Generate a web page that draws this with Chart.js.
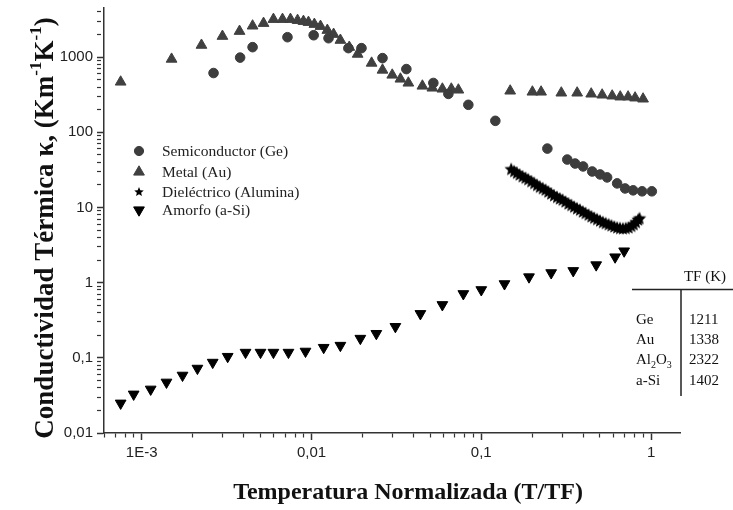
<!DOCTYPE html>
<html>
<head>
<meta charset="utf-8">
<script src="https://cdn.jsdelivr.net/npm/chart.js@4/dist/chart.umd.min.js"></script>
<style>
  body { margin: 0; background: #fff; }
  #wrap { width: 733px; height: 510px; }
</style>
</head>
<body>
<div id="wrap"><canvas id="kappa" width="733" height="510"></canvas></div>
<script>
const seriesNames = ['Semiconductor (Ge)', 'Metal (Au)', 'Dieléctrico (Alumina)', 'Amorfo (a-Si)'];

// Ge (circulos)
const geX = [0.00265, 0.0038, 0.0045, 0.00722, 0.0103, 0.0126, 0.0165, 0.0197, 0.0262, 0.0362,
  0.0522, 0.064, 0.0839, 0.121, 0.245, 0.321, 0.357, 0.398, 0.45, 0.501,
  0.551, 0.631, 0.703, 0.784, 0.885, 1.01];
const geY = [614, 985, 1356, 1840, 1954, 1783, 1316, 1316, 970, 693,
  453, 324, 232, 142, 60.7, 43.4, 38.4, 35.1, 30.1, 27.5,
  25.1, 20.9, 17.9, 16.9, 16.4, 16.4];

// Au (triangulos)
const auX = [0.000752, 0.0015, 0.00225, 0.00299, 0.00377, 0.0045, 0.00522, 0.00597, 0.00675, 0.00752,
  0.00828, 0.00897, 0.0096, 0.0104, 0.0113, 0.0124, 0.0135, 0.0148, 0.0167, 0.0187,
  0.0226, 0.0262, 0.0299, 0.0334, 0.0372, 0.045, 0.0515, 0.059, 0.0666, 0.0733,
  0.148, 0.2, 0.225, 0.296, 0.367, 0.444, 0.515, 0.59, 0.658, 0.732, 0.805, 0.897];
const auY = [467, 941, 1442, 1896, 2208, 2600, 2818, 3183, 3183, 3183,
  3085, 2993, 2904, 2734, 2571, 2276, 2014, 1679, 1356, 1096,
  833, 673, 578, 512, 453, 413, 389, 377, 377, 366,
  355, 344, 344, 334, 334, 324, 314, 305, 296, 296, 287, 278];

// Alumina (estrellas)
const alX = [0.150, 0.156, 0.162, 0.168, 0.175, 0.182, 0.189, 0.197, 0.205, 0.213,
  0.221, 0.230, 0.239, 0.248, 0.258, 0.268, 0.279, 0.290, 0.301, 0.313,
  0.326, 0.339, 0.352, 0.366, 0.381, 0.396, 0.411, 0.428, 0.445, 0.462,
  0.481, 0.500, 0.520, 0.540, 0.562, 0.584, 0.607, 0.631, 0.656, 0.682,
  0.709, 0.737, 0.766, 0.790, 0.815, 0.840, 0.855];
const alY = [32, 30, 28.5, 27, 25.6, 24.5, 23.4, 22, 20.8, 19.6,
  18.6, 17.8, 17.0, 16.0, 15.1, 14.3, 13.6, 13.0, 12.5, 11.8,
  11.1, 10.6, 10.1, 9.6, 9.2, 8.7, 8.3, 7.9, 7.5, 7.2,
  6.9, 6.6, 6.3, 6.1, 5.9, 5.7, 5.5, 5.35, 5.25, 5.2,
  5.25, 5.35, 5.6, 5.9, 6.3, 6.8, 7.1];

// a-Si (triangulos invertidos)
const siX = [0.000752, 0.000897, 0.00113, 0.0014, 0.00174, 0.00213, 0.00262, 0.00321, 0.00409, 0.00501,
  0.00597, 0.00732, 0.00922, 0.0118, 0.0148, 0.0194, 0.0241, 0.0312, 0.0438, 0.059,
  0.0784, 0.1, 0.137, 0.191, 0.258, 0.348, 0.475, 0.614, 0.694];
const siY = [0.0249, 0.0328, 0.0382, 0.0473, 0.0585, 0.0724, 0.0869, 0.104, 0.118, 0.118,
  0.118, 0.118, 0.122, 0.137, 0.146, 0.181, 0.21, 0.26, 0.386, 0.508,
  0.711, 0.803, 0.964, 1.19, 1.35, 1.44, 1.72, 2.19, 2.63];

const xTickValues = [0.001, 0.01, 0.1, 1];
const xTickLabels = ['1E-3', '0,01', '0,1', '1'];
const yTickValues = [0.01, 0.1, 1, 10, 100, 1000];
const yTickLabels = ['0,01', '0,1', '1', '10', '100', '1000'];

const tableHead = 'TF (K)';
const tableMaterials = ['Ge', 'Au', 'Al2O3', 'a-Si'];
const tableTF = ['1211', '1338', '2322', '1402'];

function makeStar(r, color) {
  const c = document.createElement('canvas');
  c.width = c.height = Math.ceil(r * 2) + 2;
  const g = c.getContext('2d');
  g.fillStyle = color;
  g.beginPath();
  for (let i = 0; i < 10; i++) {
    const rad = i % 2 === 0 ? r : r * 0.45;
    const a = -Math.PI / 2 + i * Math.PI / 5;
    g.lineTo(c.width / 2 + rad * Math.cos(a), c.height / 2 + rad * Math.sin(a));
  }
  g.closePath();
  g.fill();
  return c;
}
const starPoint = makeStar(7, '#000');
const starLegend = makeStar(5, '#000');

const toPoints = (xs, ys) => xs.map((x, i) => ({ x: x, y: ys[i] }));

function logTicks(scale) {
  const ticks = [];
  const e0 = Math.floor(Math.log10(scale.min));
  const e1 = Math.ceil(Math.log10(scale.max));
  for (let e = e0; e <= e1; e++) {
    for (let m = 1; m <= 9; m++) {
      const v = parseFloat((m * Math.pow(10, e)).toPrecision(6));
      if (v >= scale.min * 0.999 && v <= scale.max * 1.001) ticks.push({ value: v });
    }
  }
  scale.ticks = ticks;
}
const findMajor = (vals, v) => vals.findIndex(t => Math.abs(t - v) / t < 1e-6);

const markerStyles = [
  { pointStyle: 'circle', radius: 4.6, rotation: 0, color: '#3d3d3d' },
  { pointStyle: 'triangle', radius: 6.2, rotation: 0, color: '#404040' },
  { pointStyle: starLegend, radius: 5, rotation: 0, color: '#000' },
  { pointStyle: 'triangle', radius: 6.2, rotation: 180, color: '#000' }
];

const overlay = {
  id: 'overlay',
  afterDraw(chart) {
    const ctx = chart.ctx;
    ctx.save();
    // legend
    const rows = [151, 172, 192, 210];
    ctx.font = '15.5px "Liberation Serif"';
    ctx.textAlign = 'left';
    ctx.textBaseline = 'middle';
    seriesNames.forEach((name, i) => {
      const m = markerStyles[i];
      ctx.fillStyle = m.color;
      ctx.strokeStyle = m.color;
      ctx.lineWidth = 1;
      Chart.helpers.drawPoint(ctx, { pointStyle: m.pointStyle, radius: m.radius, rotation: m.rotation, borderWidth: 1 }, 139, rows[i]);
      ctx.fillStyle = '#222';
      ctx.fillText(name, 162, rows[i] + 1);
    });

    // TF table
    ctx.fillStyle = '#111';
    ctx.strokeStyle = '#222';
    ctx.lineWidth = 1.5;
    ctx.font = '15px "Liberation Serif"';
    ctx.textAlign = 'center';
    ctx.fillText(tableHead, 705, 277);
    ctx.beginPath();
    ctx.moveTo(632, 289.5); ctx.lineTo(733, 289.5);
    ctx.moveTo(681, 289.5); ctx.lineTo(681, 396);
    ctx.stroke();
    const tRows = [320, 340, 360, 381];
    tableMaterials.forEach((mat, i) => {
      const y = tRows[i];
      ctx.textAlign = 'left';
      if (mat === 'Al2O3') {
        let x = 636;
        const parts = [['Al', 0], ['2', 1], ['O', 0], ['3', 1]];
        parts.forEach(p => {
          ctx.font = p[1] ? '10px "Liberation Serif"' : '15px "Liberation Serif"';
          ctx.fillText(p[0], x, y + (p[1] ? 5 : 0));
          x += ctx.measureText(p[0]).width;
        });
        ctx.font = '15px "Liberation Serif"';
      } else {
        ctx.fillText(mat, 636, y);
      }
      ctx.fillText(tableTF[i], 689, y);
    });

    // axis titles
    ctx.fillStyle = '#111';
    ctx.textAlign = 'center';
    ctx.font = 'bold 24px "Liberation Serif"';
    ctx.fillText('Temperatura Normalizada (T/TF)', 408, 493);

    ctx.translate(46, 228);
    ctx.rotate(-Math.PI / 2);
    const big = 'bold 27px "Liberation Serif"';
    const small = 'bold 17px "Liberation Serif"';
    const pieces = [['Conductividad Térmica κ, (Km', 0], ['-1', 1], ['K', 0], ['-1', 1], [')', 0]];
    let total = 0;
    pieces.forEach(p => { ctx.font = p[1] ? small : big; total += ctx.measureText(p[0]).width; });
    let x = -total / 2;
    ctx.textAlign = 'left';
    pieces.forEach(p => {
      ctx.font = p[1] ? small : big;
      ctx.fillText(p[0], x, p[1] ? -9 : 0);
      x += ctx.measureText(p[0]).width;
    });
    ctx.restore();
  }
};

function axisGrid(majors) {
  return {
    drawOnChartArea: false,
    drawTicks: true,
    tickLength: 7,
    tickColor: '#333',
    tickWidth: c => (c.tick && findMajor(majors, c.tick.value) >= 0 ? 1.5 : 1.2),
    tickBorderDash: c => (c.tick && findMajor(majors, c.tick.value) >= 0 ? [] : [4, 30])
  };
}

const ctx = document.getElementById('kappa').getContext('2d');
new Chart(ctx, {
  type: 'scatter',
  data: {
    datasets: [
      {
        label: seriesNames[0],
        data: toPoints(geX, geY),
        pointStyle: 'circle',
        pointRadius: 4.8,
        backgroundColor: '#3d3d3d',
        borderColor: '#3d3d3d',
        borderWidth: 1
      },
      {
        label: seriesNames[1],
        data: toPoints(auX, auY),
        pointStyle: 'triangle',
        pointRadius: 6.2,
        backgroundColor: '#404040',
        borderColor: '#404040',
        borderWidth: 1
      },
      {
        label: seriesNames[2],
        data: toPoints(alX, alY),
        pointStyle: starPoint,
        pointRadius: 7,
        backgroundColor: '#000',
        borderColor: '#000'
      },
      {
        label: seriesNames[3],
        data: toPoints(siX, siY),
        pointStyle: 'triangle',
        pointRotation: 180,
        pointRadius: 6.2,
        backgroundColor: '#000',
        borderColor: '#000',
        borderWidth: 1
      }
    ]
  },
  options: {
    responsive: false,
    animation: false,
    devicePixelRatio: 1,
    layout: { padding: { left: 0, right: 53, top: 6, bottom: 0 } },
    plugins: {
      legend: { display: false },
      tooltip: { enabled: false }
    },
    scales: {
      x: {
        type: 'logarithmic',
        min: 0.000605,
        max: 1.48,
        afterBuildTicks: logTicks,
        afterFit(scale) {
          scale.height = 77;
          scale.paddingLeft = 0;
          scale.paddingRight = 0;
        },
        border: { display: true, color: '#333', width: 1.5 },
        grid: axisGrid(xTickValues),
        ticks: {
          autoSkip: false,
          maxRotation: 0,
          minRotation: 0,
          padding: 4,
          color: '#222',
          font: { family: '"Liberation Sans"', size: 15 },
          callback: value => {
            const i = findMajor(xTickValues, value);
            return i >= 0 ? xTickLabels[i] : '';
          }
        }
      },
      y: {
        type: 'logarithmic',
        min: 0.01,
        max: 4500,
        afterBuildTicks: logTicks,
        afterFit(scale) {
          scale.width = 104;
          scale.paddingTop = 0;
          scale.paddingBottom = 0;
        },
        border: { display: true, color: '#333', width: 1.5 },
        grid: axisGrid(yTickValues),
        ticks: {
          autoSkip: false,
          padding: 4,
          color: '#222',
          font: { family: '"Liberation Sans"', size: 15 },
          callback: value => {
            const i = findMajor(yTickValues, value);
            return i >= 0 ? yTickLabels[i] : '';
          }
        }
      }
    }
  },
  plugins: [overlay]
});
</script>
</body>
</html>
